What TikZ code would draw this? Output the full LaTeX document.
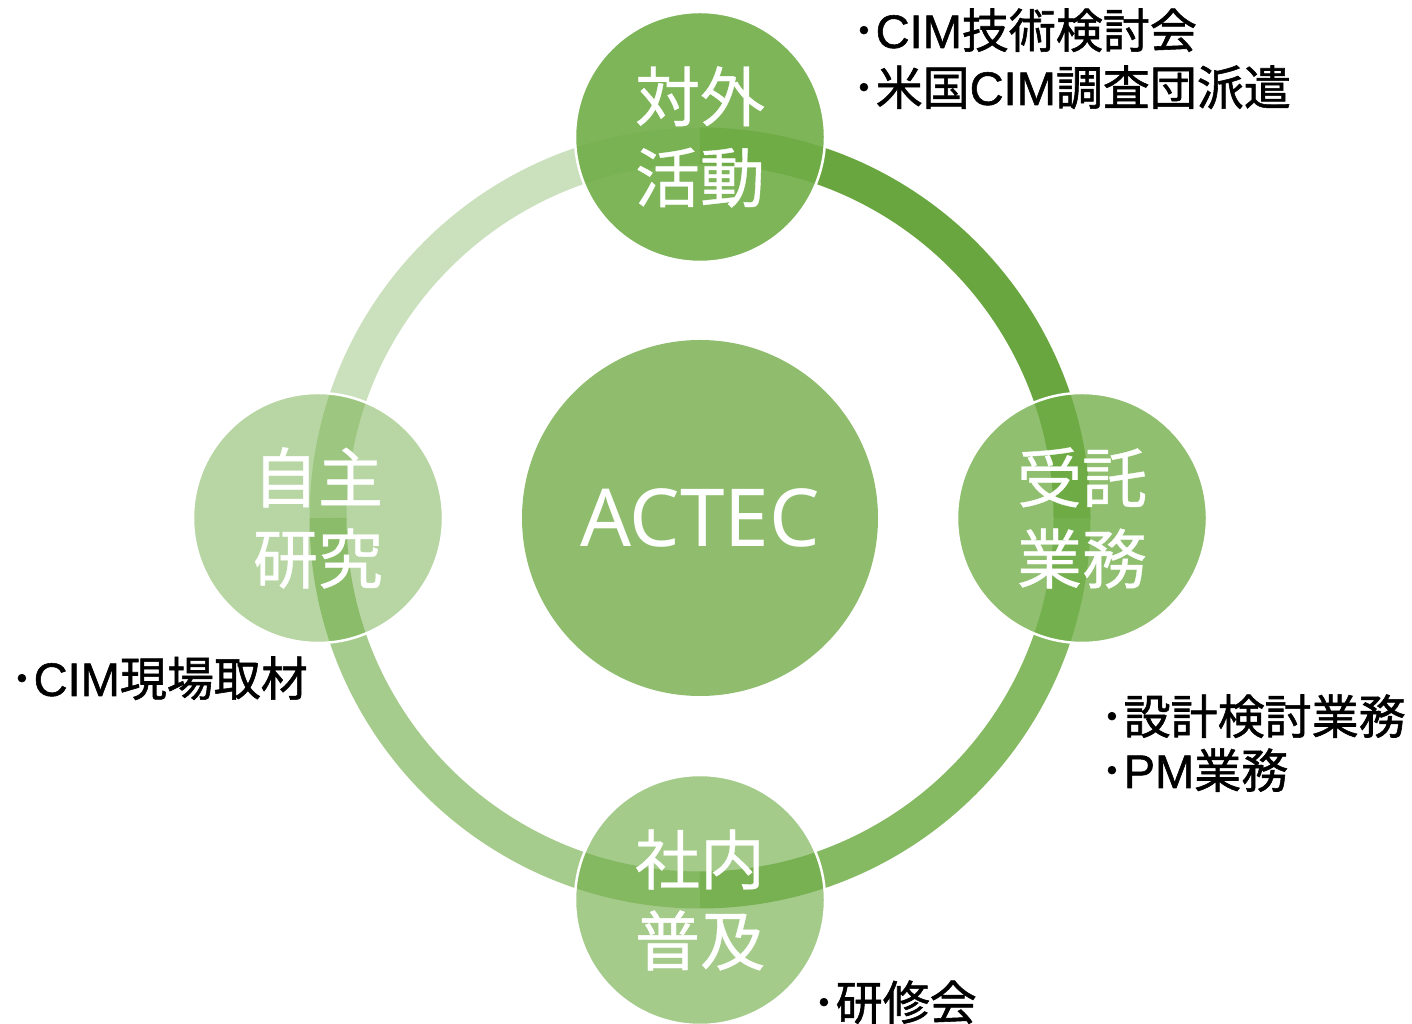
\documentclass[tikz,border=0pt]{standalone}
\usepackage{fontspec}
\setmainfont{Noto Sans CJK JP}
\newfontfamily\jpf{Noto Sans CJK JP}[FakeBold=0.6]
\newfontfamily\jpl{Noto Sans CJK JP}[FakeBold=1.2]
\newfontfamily\arf{Liberation Sans}[FakeBold=1.2]
\newfontfamily\nsf{Noto Sans}
\definecolor{base}{RGB}{112,173,71}
\definecolor{arcdark}{RGB}{106,166,64}
\definecolor{centerg}{RGB}{143,189,109}
\begin{document}
\begin{tikzpicture}[x=1pt,y=1pt,
  ring/.style={line width=37pt},
  cyc/.style={circle, minimum size=250pt, inner sep=0pt, fill=base, draw=white, line width=2.5pt,
    text=white, text opacity=1, draw opacity=1, font=\jpf\fontsize{65}{81}\selectfont, align=center},
  lab/.style={anchor=base west, inner sep=0pt, font=\jpl\fontsize{47}{56}\selectfont}]
\useasboundingbox (0,0) rectangle (1412,1024);
\coordinate (c) at (700,506);
% ring arcs
\draw[ring, arcdark] (c) ++(90:372) arc[start angle=90, end angle=0, radius=372];
\draw[ring, base, draw opacity=0.85] (c) ++(0:372) arc[start angle=0, end angle=-90, radius=372];
\draw[ring, base, draw opacity=0.62] (c) ++(-90:372) arc[start angle=-90, end angle=-180, radius=372];
\draw[ring, base, draw opacity=0.36] (c) ++(180:372) arc[start angle=180, end angle=90, radius=372];
% cycle nodes
\node[cyc, fill opacity=0.9, text opacity=1] (top) at (700,887) {\raisebox{5pt}{対外}\\\raisebox{5pt}{活動}};
\node[cyc, fill opacity=0.78, text opacity=1] (right) at (1082,506) {\raisebox{4pt}{受託}\\\raisebox{4pt}{業務}};
\node[cyc, fill opacity=0.63, text opacity=1] (bottom) at (700,124) {\raisebox{4pt}{社内}\\\raisebox{4pt}{普及}};
\node[cyc, fill opacity=0.5, text opacity=1] (left) at (318,506) {\raisebox{4pt}{自主}\\\raisebox{4pt}{研究}};
% center
\node[circle, minimum size=356pt, inner sep=0pt, fill=centerg, text=white,
  font=\nsf\fontsize{80}{90}\selectfont] (ctr) at (c) {ACTEC};
% labels
\node[lab] (t1) at (852,976) {･{\arf CIM}技術検討会};
\node[lab] (t2) at (852,919) {･米国{\arf CIM}調査団派遣};
\node[lab] (l1) at (10,328) {･{\arf CIM}現場取材};
\node[lab] (r1) at (1100,290) {･設計検討業務};
\node[lab] (r2) at (1100,236) {･{\arf PM}業務};
\node[lab] (b1) at (812,4) {･研修会};
\end{tikzpicture}
\end{document}
